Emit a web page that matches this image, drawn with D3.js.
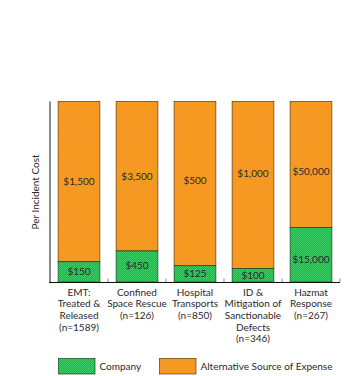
<!DOCTYPE html>
<html><head><meta charset="utf-8">
<script src="https://cdn.jsdelivr.net/npm/d3@7"></script>
<style>body{margin:0;background:#fff}svg{display:block}text{font-family:Lato, "Open Sans", sans-serif;fill:#2a2a2a}</style>
</head><body><svg id="c" width="347" height="376"></svg>
<script>
const categories = [
  ["EMT:", "Treated &", "Released", "(n=1589)"],
  ["Confined", "Space Rescue", "(n=126)"],
  ["Hospital", "Transports", "(n=850)"],
  ["ID &", "Mitigation of", "Sanctionable", "Defects", "(n=346)"],
  ["Hazmat", "Response", "(n=267)"]
];
const companyLabels = ["$150", "$450", "$125", "$100", "$15,000"];
const alternativeLabels = ["$1,500", "$3,500", "$500", "$1,000", "$50,000"];
const companyShare = [11.2, 17.2, 9.0, 7.5, 30.2];
const totalShare = [100, 100, 100, 100, 100];
const seriesNames = ["Company", "Alternative Source of Expense"];

const svg = d3.select("#c");
const defs = svg.append("defs");
const pg = defs.append("pattern").attr("id","pg").attr("width",2).attr("height",2).attr("patternUnits","userSpaceOnUse");
pg.append("rect").attr("width",2).attr("height",2).attr("fill","#22b24e");
pg.append("rect").attr("width",1).attr("height",1).attr("fill","#3ccc64");
pg.append("rect").attr("x",1).attr("y",1).attr("width",1).attr("height",1).attr("fill","#3ccc64");
const po = defs.append("pattern").attr("id","po").attr("width",3).attr("height",3).attr("patternUnits","userSpaceOnUse");
po.append("rect").attr("width",3).attr("height",3).attr("fill","#f8991f");
po.append("rect").attr("x",1).attr("y",1).attr("width",1).attr("height",1).attr("fill","#e99a3a");

const x = d3.scaleBand().domain(d3.range(categories.length)).range([50, 340]).paddingInner(0.28).paddingOuter(0.14);
const y = d3.scaleLinear().domain([0, 100]).range([282, 101.5]);
const step = x.step();
// small manual nudges of the value labels, as placed in the original artwork (pixels)
const altNudge = [0, 0, -3, -11, 7];
const compNudge = [0, -1, 0, 0, 5];

svg.selectAll(".alt").data(totalShare).join("rect")
  .attr("x",(d,i)=>x(i)).attr("width",x.bandwidth())
  .attr("y",d=>y(d)).attr("height",(d,i)=>y(companyShare[i])-y(d))
  .attr("fill","url(#po)").attr("stroke","#5a3a10").attr("stroke-width",0.7);
svg.selectAll(".comp").data(companyShare).join("rect")
  .attr("x",(d,i)=>x(i)).attr("width",x.bandwidth())
  .attr("y",d=>y(d)).attr("height",d=>y(0)-y(d))
  .attr("fill","url(#pg)").attr("stroke","#1d3d22").attr("stroke-width",0.7);

svg.selectAll(".al").data(alternativeLabels).join("text")
  .attr("x",(d,i)=>x(i)+x.bandwidth()/2).attr("y",(d,i)=>(y(100)+y(companyShare[i]))/2+altNudge[i])
  .attr("dy","0.35em").attr("text-anchor","middle").attr("font-size",10).text(d=>d);
svg.selectAll(".cl").data(companyLabels).join("text")
  .attr("x",(d,i)=>x(i)+x.bandwidth()/2).attr("y",(d,i)=>(y(0)+y(companyShare[i]))/2+compNudge[i])
  .attr("dy","0.35em").attr("text-anchor","middle").attr("font-size",10).text(d=>d);

svg.append("line").attr("x1",50).attr("x2",50).attr("y1",y(100)).attr("y2",y(0)).attr("stroke","#8a8a8a").attr("stroke-width",2);
svg.append("line").attr("x1",49).attr("x2",340).attr("y1",282.5).attr("y2",282.5).attr("stroke","#111").attr("stroke-width",1);
svg.selectAll(".tk").data(d3.range(1, categories.length+1)).join("line")
  .attr("x1",d=>50+d*step).attr("x2",d=>50+d*step).attr("y1",282).attr("y2",278.5)
  .attr("stroke","#888").attr("stroke-width",1);

const cg = svg.selectAll(".cat").data(categories).join("text")
  .attr("text-anchor","middle").attr("font-size",10)
  .attr("transform",(d,i)=>`translate(${x(i)+x.bandwidth()/2},295.5)`);
cg.selectAll("tspan").data(d=>d).join("tspan").attr("x",0).attr("dy",(d,j)=>j===0?0:11.7).text(d=>d);

svg.append("text").attr("transform","translate(38.5,192) rotate(-90)").attr("text-anchor","middle")
  .attr("font-size",10).text("Per Incident Cost");

const legFills = ["url(#pg)","url(#po)"];
const legX = [58.5, 159.5];
seriesNames.forEach((n,i)=>{
  svg.append("rect").attr("x",legX[i]).attr("y",358.5).attr("width",36.5).attr("height",15.5)
    .attr("fill",legFills[i]).attr("stroke",i===0?"#1d3d22":"#5a3a10").attr("stroke-width",0.7);
  svg.append("text").attr("x",legX[i]+41).attr("y",366.5).attr("dy","0.35em").attr("font-size",10).text(n);
});
</script></body></html>
